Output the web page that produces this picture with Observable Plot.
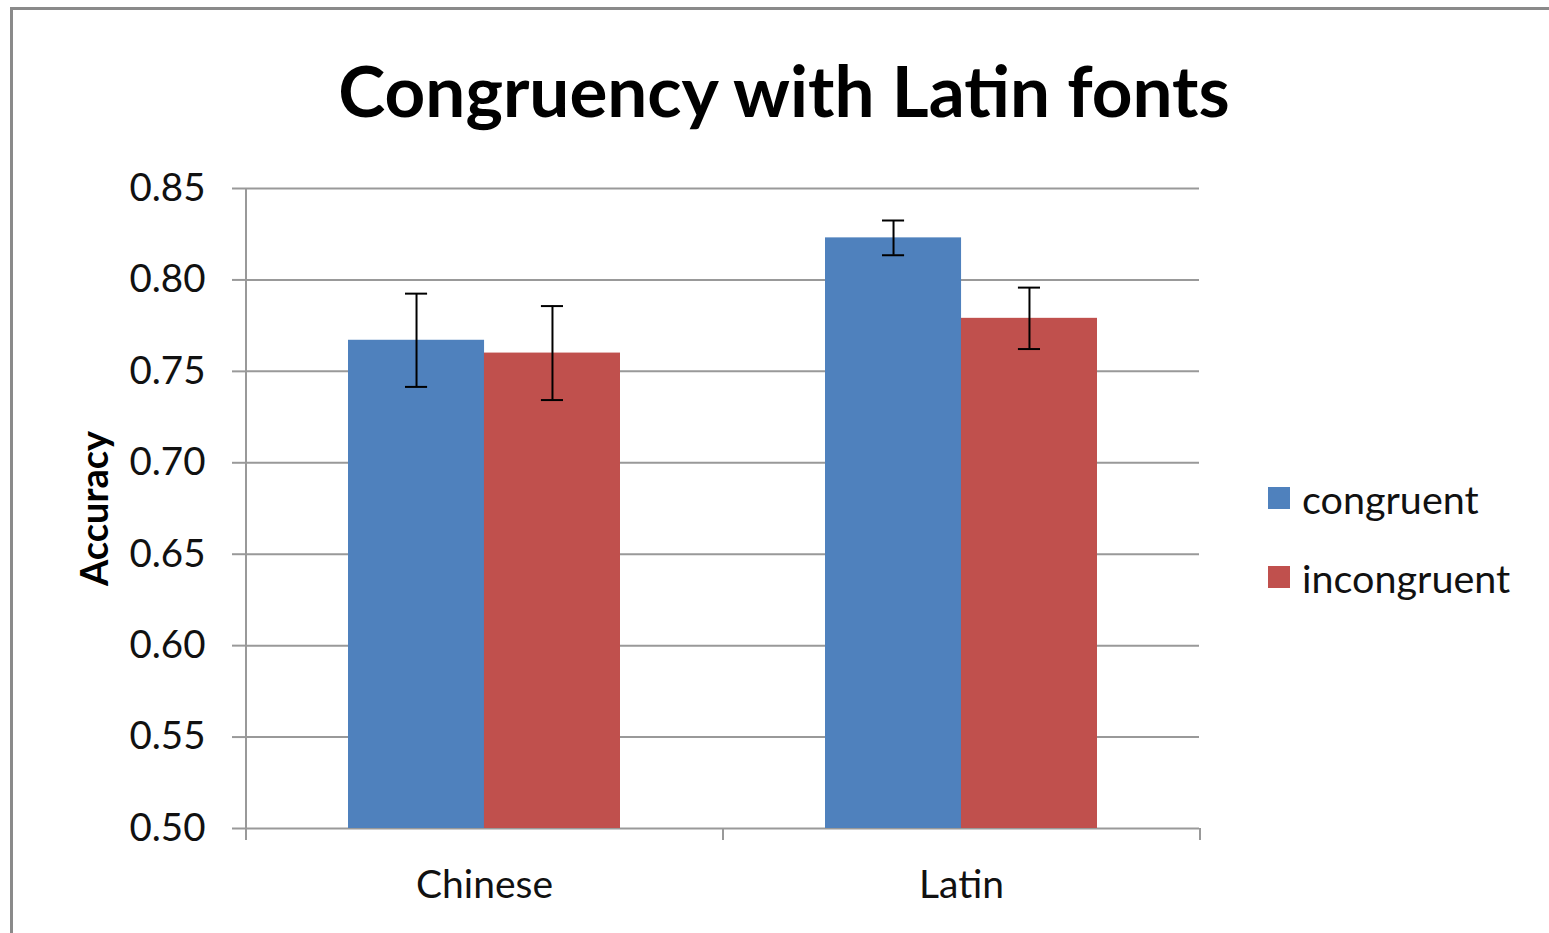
<!DOCTYPE html>
<html>
<head>
<meta charset="utf-8">
<script src="https://cdn.jsdelivr.net/npm/d3@7"></script>
<script src="https://cdn.jsdelivr.net/npm/@observablehq/plot@0.6"></script>
<style>
  body { margin: 0; background: #fff; font-family: Lato, "Open Sans", sans-serif; }
  #wrap { position: relative; width: 1549px; height: 933px; overflow: hidden; background: #fff; }
  #frame { position: absolute; left: 10px; top: 7px; width: 1600px; height: 1000px; border: 3px solid #8a8a8a; box-sizing: border-box; }
  #title { position: absolute; left: 0; top: 54px; width: 1568px; text-align: center; font-weight: 700; font-size: 71px; line-height: 1; color: #000; white-space: nowrap; }
  #chart { position: absolute; left: 0; top: 140px; }
  #legend { position: absolute; left: 1268px; top: 476px; font-size: 39.5px; color: #111; }
  .item { display: flex; align-items: center; height: 44px; margin-bottom: 35px; white-space: nowrap; }
  .sw { width: 22px; height: 22px; margin-right: 12px; }
</style>
</head>
<body>
<div id="wrap">
  <div id="frame"></div>
  <div id="title">Congruency with Latin fonts</div>
  <div id="chart"></div>
  <div id="legend"></div>
</div>
<script>
const categories = ["Chinese", "Latin"];
const series = ["congruent", "incongruent"];
const colors = ["#4F81BD", "#C0504D"];
const congruent = [0.767, 0.823];
const incongruent = [0.760, 0.779];
const congruentErr = [0.0255, 0.0095];
const incongruentErr = [0.0257, 0.0168];
const yTicks = [0.50, 0.55, 0.60, 0.65, 0.70, 0.75, 0.80, 0.85];
const yLabel = "Accuracy";

const values = {congruent, incongruent};
const errors = {congruent: congruentErr, incongruent: incongruentErr};
const rows = [];
series.forEach((s) => categories.forEach((c, i) => rows.push({category: c, series: s, value: values[s][i], err: errors[s][i]})));

const W = 1549, H = 793;
const mL = 245, mR = 350, mT = 48, mB = 105;
const step = (W - mL - mR) / categories.length;
const bandwidth = step * (1 - 0.43);
const half = bandwidth / 2;
const cap = 22;
const grid = "#999";

const cong = rows.filter(d => d.series === "congruent");
const incong = rows.filter(d => d.series === "incongruent");

const chart = Plot.plot({
  width: W, height: H,
  marginLeft: mL, marginRight: mR, marginTop: mT, marginBottom: mB,
  style: {fontFamily: "Lato, 'Open Sans', sans-serif", color: "#111", background: "transparent"},
  x: {domain: categories, paddingInner: 0.43, paddingOuter: 0.215},
  y: {domain: [0.5, 0.85]},
  marks: [
    Plot.ruleY(yTicks, {stroke: grid, strokeWidth: 2}),
    Plot.ruleX([categories[0]], {x: d => d, dx: -step / 2, y1: 0.85, y2: 0.5, insetBottom: -12, stroke: grid, strokeWidth: 2}),
    Plot.ruleX(categories, {x: d => d, dx: step / 2, y1: 0.5, y2: 0.5, insetBottom: -12, stroke: grid, strokeWidth: 2}),
    Plot.barY(cong, {x: "category", y1: 0.5, y2: "value", fill: colors[0], insetRight: half}),
    Plot.barY(incong, {x: "category", y1: 0.5, y2: "value", fill: colors[1], insetLeft: half}),
    Plot.ruleX(cong, {x: "category", dx: -half / 2, y1: d => d.value - d.err, y2: d => d.value + d.err, stroke: "#000", strokeWidth: 2}),
    Plot.ruleX(incong, {x: "category", dx: half / 2, y1: d => d.value - d.err, y2: d => d.value + d.err, stroke: "#000", strokeWidth: 2}),
    Plot.tickY(cong, {x: "category", y: d => d.value + d.err, insetLeft: half / 2 - cap / 2, insetRight: bandwidth - half / 2 - cap / 2, stroke: "#000", strokeWidth: 2}),
    Plot.tickY(cong, {x: "category", y: d => d.value - d.err, insetLeft: half / 2 - cap / 2, insetRight: bandwidth - half / 2 - cap / 2, stroke: "#000", strokeWidth: 2}),
    Plot.tickY(incong, {x: "category", y: d => d.value + d.err, insetLeft: half * 1.5 - cap / 2, insetRight: bandwidth - half * 1.5 - cap / 2, stroke: "#000", strokeWidth: 2}),
    Plot.tickY(incong, {x: "category", y: d => d.value - d.err, insetLeft: half * 1.5 - cap / 2, insetRight: bandwidth - half * 1.5 - cap / 2, stroke: "#000", strokeWidth: 2}),
    Plot.axisY(yTicks, {tickSize: 13, tickPadding: 27, tickFormat: d3.format(".2f"), fontSize: 38.5, stroke: grid, strokeWidth: 2, label: null, fill: "#111"}),
    Plot.axisX({tickSize: 0, tickPadding: 42, fontSize: 39, label: null, fill: "#111"}),
    Plot.text([yLabel], {frameAnchor: "left", textAnchor: "middle", rotate: -90, dx: -150, fontSize: 38, fontWeight: "bold", fill: "#000"})
  ]
});
document.getElementById("chart").appendChild(chart);

const legend = document.getElementById("legend");
series.forEach((s, i) => {
  const item = document.createElement("div");
  item.className = "item";
  const sw = document.createElement("div");
  sw.className = "sw";
  sw.style.background = colors[i];
  const t = document.createElement("span");
  t.textContent = s;
  item.appendChild(sw);
  item.appendChild(t);
  legend.appendChild(item);
});
</script>
</body>
</html>
